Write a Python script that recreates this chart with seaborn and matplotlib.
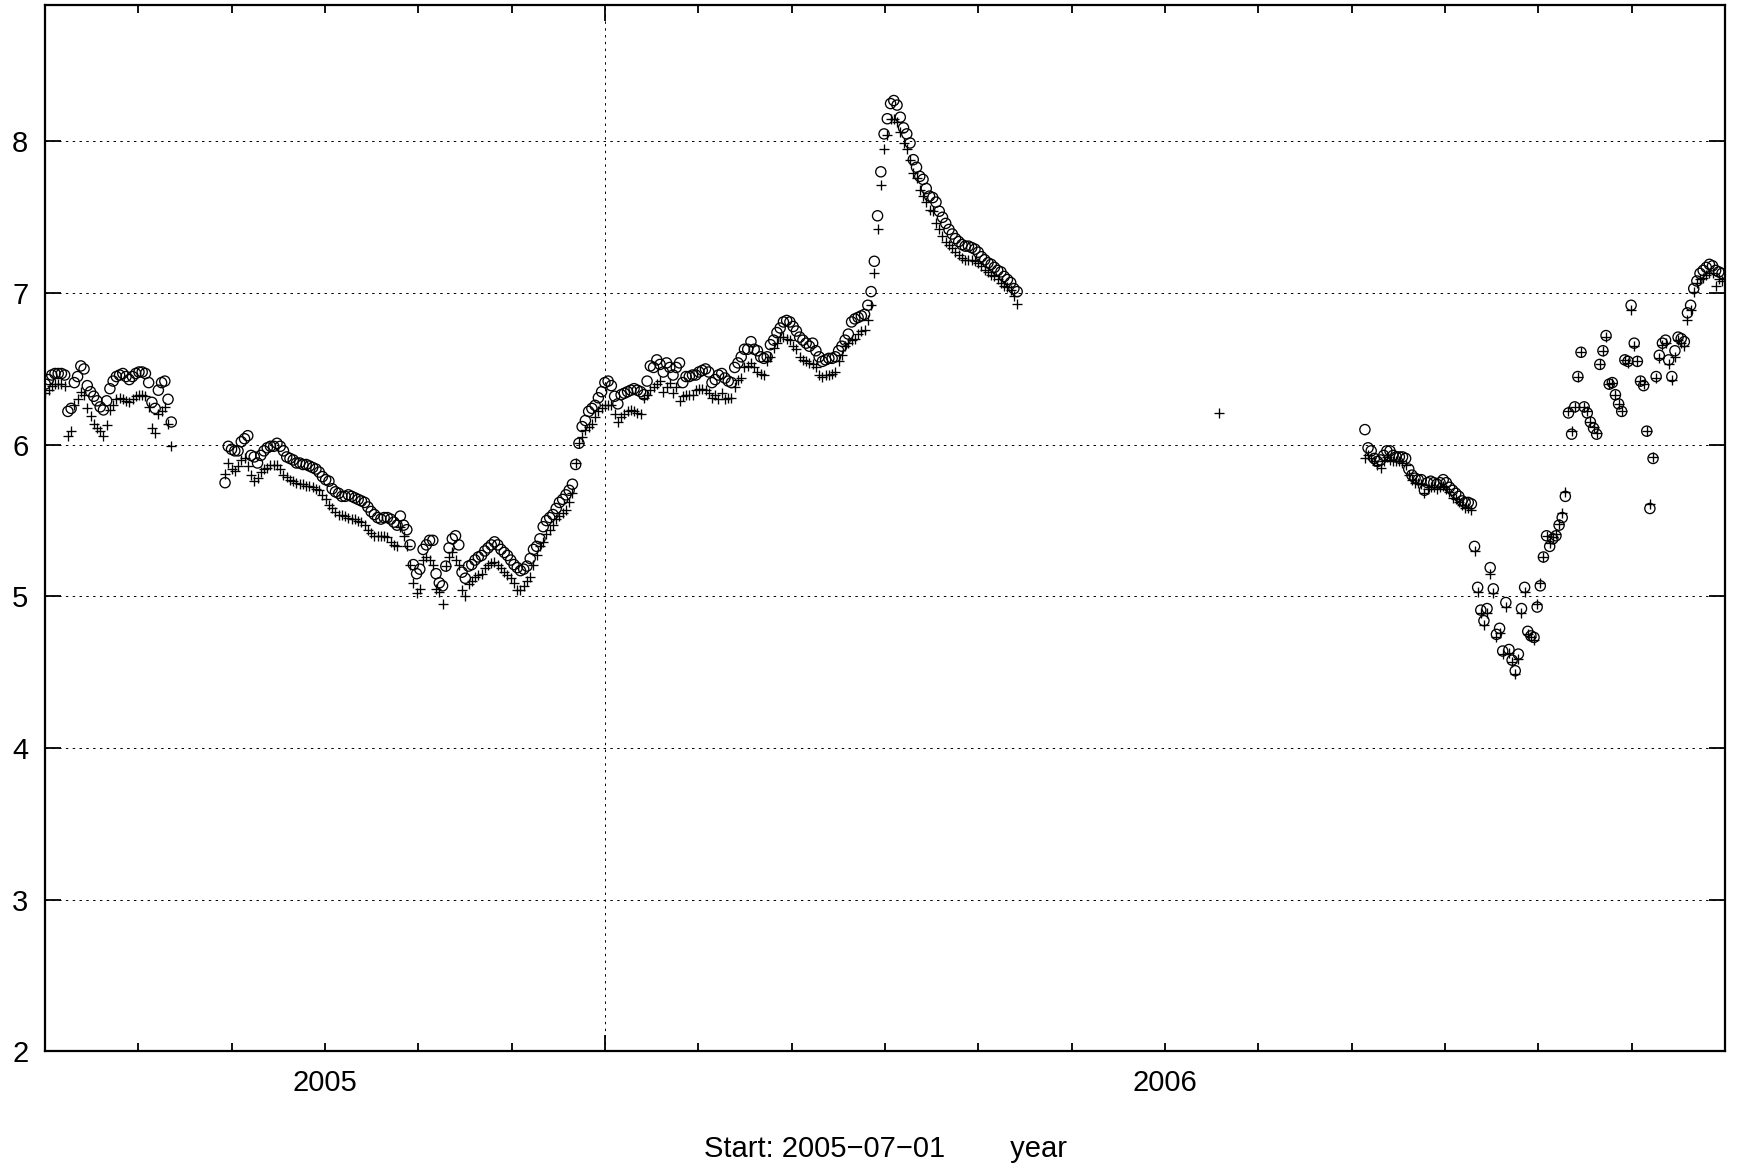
import numpy as np
import pandas as pd
import matplotlib
matplotlib.use("Agg")
import matplotlib.pyplot as plt
import seaborn as sns

# ---------------- data ----------------
# segment 1
seg1_start, seg1_end = 2004.667, 2004.817
seg1_circle = [6.40, 6.43, 6.46, 6.47, 6.47, 6.47, 6.46, 6.22, 6.24, 6.41,
               6.45, 6.52, 6.50, 6.39, 6.35, 6.32, 6.29, 6.25, 6.23, 6.29,
               6.37, 6.42, 6.45, 6.46, 6.47, 6.45, 6.43, 6.45, 6.47, 6.48,
               6.48, 6.47, 6.41, 6.28, 6.24, 6.36, 6.41, 6.42, 6.30, 6.15]
seg1_plus = [6.34, 6.36, 6.39, 6.40, 6.40, 6.40, 6.39, 6.06, 6.09, 6.26,
             6.30, 6.35, 6.33, 6.24, 6.19, 6.14, 6.11, 6.09, 6.06, 6.13,
             6.23, 6.26, 6.30, 6.31, 6.30, 6.29, 6.28, 6.30, 6.32, 6.33,
             6.33, 6.32, 6.25, 6.11, 6.08, 6.20, 6.22, 6.25, 6.14, 5.99]

# segment 2 (long continuous run)
seg2_start, seg2_end = 2004.881, 2005.824
seg2_circle = [
    5.75, 5.99, 5.97, 5.96, 5.96, 6.02, 6.04, 6.06, 5.93, 5.92,
    5.88, 5.93, 5.96, 5.98, 5.99, 5.99, 6.01, 5.99, 5.96, 5.92,
    5.91, 5.90, 5.88, 5.88, 5.87, 5.87, 5.86, 5.85, 5.84, 5.82,
    5.79, 5.77, 5.76, 5.71, 5.69, 5.68, 5.66, 5.66, 5.67, 5.66,
    5.65, 5.64, 5.63, 5.62, 5.59, 5.56, 5.54, 5.52, 5.51, 5.52,
    5.52, 5.51, 5.49, 5.47,
    5.53, 5.47, 5.44, 5.34, 5.21, 5.15, 5.18, 5.31, 5.34, 5.37,
    5.37, 5.15, 5.09, 5.07, 5.20, 5.32, 5.38, 5.40, 5.34, 5.16,
    5.12, 5.20, 5.21, 5.24, 5.26, 5.27, 5.30, 5.32, 5.34, 5.36,
    5.34, 5.31, 5.29, 5.27, 5.24, 5.21, 5.19, 5.17, 5.18, 5.20,
    5.25, 5.31, 5.33, 5.38, 5.46, 5.50, 5.52, 5.54, 5.58, 5.62,
    5.64, 5.67, 5.70, 5.74, 5.87,
    6.01, 6.12, 6.16, 6.22, 6.24, 6.26, 6.31, 6.35, 6.41, 6.42,
    6.39, 6.32, 6.27, 6.33, 6.34, 6.35, 6.36, 6.37, 6.36, 6.35,
    6.33, 6.42, 6.52, 6.51, 6.56, 6.53, 6.48, 6.54, 6.51, 6.46,
    6.51, 6.54, 6.41, 6.45, 6.45, 6.46, 6.46, 6.48, 6.49, 6.50,
    6.48, 6.41, 6.43, 6.46, 6.47, 6.44, 6.42, 6.41, 6.51, 6.54,
    6.58, 6.63, 6.63, 6.68, 6.63, 6.62, 6.58, 6.57, 6.58, 6.66,
    6.69, 6.74, 6.77, 6.81, 6.82, 6.81, 6.78, 6.75, 6.71, 6.69,
    6.67, 6.65, 6.67, 6.62, 6.58, 6.55, 6.56, 6.57, 6.57, 6.58,
    6.62, 6.65, 6.69, 6.73, 6.81, 6.83, 6.84, 6.85, 6.86, 6.92,
    7.01,
    7.21, 7.51, 7.80, 8.05, 8.15, 8.25, 8.27, 8.24, 8.16, 8.09,
    8.05, 7.99, 7.88, 7.83, 7.77, 7.75, 7.69, 7.64, 7.63, 7.60,
    7.54, 7.50, 7.46, 7.42, 7.39, 7.36, 7.34, 7.32, 7.31, 7.31,
    7.30, 7.29, 7.27, 7.24, 7.22, 7.20, 7.19, 7.17, 7.15, 7.14,
    7.11, 7.09, 7.07, 7.03, 7.01]
seg2_plus = [
    5.81, 5.88, 5.84, 5.83, 5.86, 5.90, 5.91, 5.86, 5.80, 5.76,
    5.78, 5.82, 5.84, 5.85, 5.87, 5.87, 5.87, 5.84, 5.80, 5.79,
    5.77, 5.76, 5.75, 5.74, 5.74, 5.73, 5.73, 5.72, 5.71, 5.70,
    5.67, 5.64, 5.60, 5.58, 5.56, 5.54, 5.54, 5.53, 5.52, 5.51,
    5.51, 5.50, 5.49, 5.47, 5.44, 5.42, 5.40, 5.40, 5.40, 5.40,
    5.39, 5.36, 5.34, 5.33,
    5.46, 5.40, 5.33, 5.21, 5.09, 5.02, 5.05, 5.24, 5.26, 5.24,
    5.21, 5.05, 5.03, 4.95, 5.20, 5.26, 5.29, 5.24, 5.21, 5.04,
    5.00, 5.08, 5.10, 5.13, 5.14, 5.15, 5.19, 5.21, 5.22, 5.23,
    5.21, 5.19, 5.16, 5.14, 5.12, 5.09, 5.04, 5.04, 5.07, 5.10,
    5.13, 5.21, 5.27, 5.33, 5.36, 5.41, 5.44, 5.47, 5.51, 5.53,
    5.55, 5.57, 5.62, 5.68, 5.88,
    6.01, 6.05, 6.10, 6.12, 6.14, 6.18, 6.22, 6.24, 6.26, 6.26,
    6.26, 6.20, 6.15, 6.18, 6.20, 6.22, 6.23, 6.22, 6.21, 6.20,
    6.31, 6.33, 6.36, 6.38, 6.40, 6.42, 6.35, 6.38, 6.41, 6.34,
    6.38, 6.29, 6.32, 6.33, 6.33, 6.33, 6.36, 6.37, 6.37, 6.36,
    6.34, 6.31, 6.33, 6.30, 6.34, 6.30, 6.31, 6.31, 6.38, 6.43,
    6.44, 6.51, 6.52, 6.54, 6.51, 6.48, 6.47, 6.46, 6.55, 6.58,
    6.64, 6.67, 6.71, 6.71, 6.70, 6.69, 6.65, 6.63, 6.58, 6.56,
    6.55, 6.54, 6.53, 6.51, 6.46, 6.45, 6.46, 6.46, 6.47, 6.48,
    6.55, 6.59, 6.65, 6.67, 6.69, 6.70, 6.73, 6.75, 6.76, 6.82,
    6.92,
    7.13, 7.42, 7.71, 7.95, 8.04, 8.15, 8.15, 8.13, 8.06, 7.99,
    7.95, 7.88, 7.79, 7.76, 7.68, 7.64, 7.60, 7.55, 7.54, 7.46,
    7.42, 7.38, 7.34, 7.32, 7.30, 7.27, 7.25, 7.23, 7.22, 7.22,
    7.22, 7.21, 7.20, 7.18, 7.15, 7.14, 7.12, 7.11, 7.09, 7.07,
    7.05, 7.04, 7.02, 6.98, 6.93]

# isolated point (plus only)
lone_year = [2006.064]
lone_plus = [6.21]

# segment 3
seg3_start, seg3_end = 2006.238, 2006.663
seg3_circle = [
    6.10, 5.98, 5.96, 5.91, 5.89, 5.90, 5.93, 5.96, 5.96, 5.93,
    5.92, 5.92, 5.92, 5.91, 5.84, 5.80, 5.78, 5.77, 5.77, 5.70,
    5.75, 5.76, 5.75, 5.74, 5.75, 5.77, 5.75, 5.72, 5.70, 5.68,
    5.66, 5.63, 5.62, 5.62, 5.61, 5.33, 5.06, 4.91, 4.84, 4.92,
    5.19, 5.05, 4.75, 4.79, 4.64, 4.96, 4.65, 4.58, 4.51, 4.62,
    4.92, 5.06, 4.77, 4.74, 4.73, 4.93, 5.07, 5.26, 5.40, 5.33,
    5.38, 5.40, 5.47, 5.52, 5.66, 6.21, 6.07, 6.25, 6.45, 6.61,
    6.25, 6.21, 6.15, 6.11, 6.07, 6.53, 6.62, 6.72, 6.40, 6.41,
    6.33, 6.27, 6.22, 6.56, 6.55, 6.92, 6.67, 6.55, 6.42, 6.39,
    6.09, 5.58, 5.91, 6.45, 6.59, 6.67, 6.69, 6.56, 6.45, 6.62,
    6.71, 6.70, 6.68, 6.87, 6.92, 7.03, 7.08, 7.13, 7.15, 7.17,
    7.19, 7.18, 7.15, 7.14, 7.13]
seg3_plus = [
    5.91, 5.93, 5.91, 5.89, 5.87, 5.85, 5.89, 5.92, 5.90, 5.89,
    5.89, 5.89, 5.88, 5.87, 5.80, 5.77, 5.75, 5.75, 5.74, 5.68,
    5.71, 5.72, 5.72, 5.71, 5.72, 5.73, 5.71, 5.69, 5.65, 5.64,
    5.62, 5.60, 5.58, 5.58, 5.57, 5.30, 5.03, 4.89, 4.81, 4.89,
    5.15, 5.02, 4.73, 4.76, 4.62, 4.93, 4.63, 4.57, 4.49, 4.59,
    4.89, 5.03, 4.75, 4.73, 4.71, 4.95, 5.09, 5.26, 5.40, 5.35,
    5.39, 5.41, 5.48, 5.55, 5.69, 6.22, 6.09, 6.25, 6.45, 6.61,
    6.25, 6.22, 6.15, 6.12, 6.08, 6.53, 6.62, 6.71, 6.40, 6.41,
    6.33, 6.27, 6.22, 6.56, 6.54, 6.89, 6.65, 6.55, 6.42, 6.40,
    6.09, 5.61, 5.92, 6.44, 6.57, 6.66, 6.67, 6.53, 6.43, 6.58,
    6.69, 6.67, 6.65, 6.82, 6.89, 7.01, 7.07, 7.09, 7.10, 7.12,
    7.13, 7.13, 7.05, 7.09, 7.08]

# axis ticks / labels
x_min, x_max = 2005 - 3 / 9, 2006 + 6 / 9
y_ticks = [2, 3, 4, 5, 6, 7, 8]
x_major = [2005 + 3 / 9]
x_minor_labels = {3: "2005", 12: "2006"}
x_label = "Start: 2005\u221207\u221201        year"

# ---------------- build table ----------------
frames = []
for start, end, circ, plus in [(seg1_start, seg1_end, seg1_circle, seg1_plus),
                               (seg2_start, seg2_end, seg2_circle, seg2_plus),
                               (seg3_start, seg3_end, seg3_circle, seg3_plus)]:
    n = min(len(circ), len(plus))
    frames.append(pd.DataFrame({"year": np.linspace(start, end, n),
                                "circle": circ[:n], "plus": plus[:n]}))
frames.append(pd.DataFrame({"year": lone_year, "circle": [np.nan], "plus": lone_plus}))
df = pd.concat(frames, ignore_index=True)

# ---------------- plot ----------------
sns.set_theme(style="white")
plt.rcParams["font.family"] = ["Liberation Sans", "DejaVu Sans"]
plt.rcParams["axes.unicode_minus"] = True

W, H = 1737, 1169
fig = plt.figure(figsize=(W / 100, H / 100), dpi=100)
left, right, top, bottom = 45, 1725, 5, 1051.4
ax = fig.add_axes([left / W, 1 - bottom / H, (right - left) / W, (bottom - top) / H])

sns.scatterplot(data=df, x="year", y="circle", marker="o", s=54,
                facecolor="none", edgecolor="black", linewidth=0.95,
                ax=ax, legend=False, zorder=3)
sns.scatterplot(data=df, x="year", y="plus", marker="+", s=44,
                color="black", linewidth=0.95, ax=ax, legend=False, zorder=3)

ax.set_xlim(x_min, x_max)
ax.set_ylim(2, 8.9)
ax.set_yticks(y_ticks)
ax.set_yticklabels([str(v) for v in y_ticks])
ax.set_xticks(x_major)
ax.set_xticklabels([""])
minor_pos = [x_min + k / 9 for k in range(19)]
ax.set_xticks(minor_pos, minor=True)
ax.set_xticklabels([x_minor_labels.get(k, "") for k in range(19)], minor=True)

ax.tick_params(axis="y", which="major", direction="in", left=True, right=True,
               length=11.5, width=1.3, labelsize=21, pad=12, colors="black")
ax.tick_params(axis="x", which="major", direction="in", bottom=True, top=True,
               length=11.5, width=1.3, labelsize=21, pad=13, colors="black")
ax.tick_params(axis="x", which="minor", direction="in", bottom=True, top=True,
               length=5.8, width=1.3, labelsize=21, pad=13, colors="black")

for sp in ax.spines.values():
    sp.set_visible(True)
    sp.set_color("black")
    sp.set_linewidth(1.6)

ax.grid(True, which="major", axis="both", color="black",
        linestyle=(0, (2.5, 4.5)), linewidth=0.7)
ax.set_axisbelow(True)

ax.set_ylabel("")
ax.set_xlabel(x_label, fontsize=21, labelpad=27, color="black")

fig.savefig("out.png", dpi=100)
